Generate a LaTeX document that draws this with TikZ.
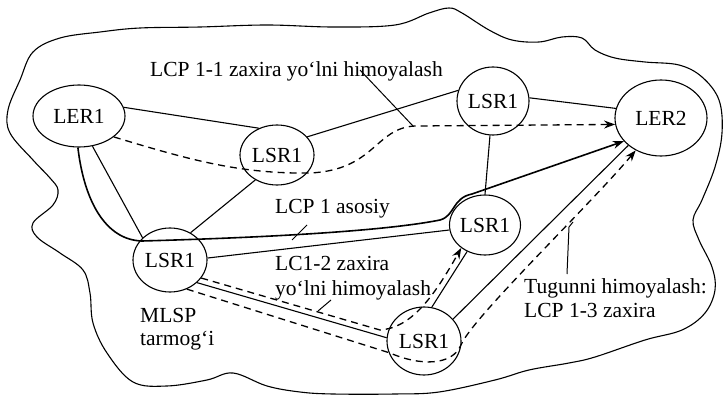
\documentclass[tikz,border=0pt]{standalone}
\usepackage{fontspec}
\setmainfont{Liberation Serif}
\usetikzlibrary{shapes.geometric,arrows.meta}
\begin{document}
\begin{tikzpicture}[x=1pt,y=-1pt,
  router/.style={draw,ellipse,inner sep=0pt,line width=1.1pt,font=\fontsize{21.5}{25}\selectfont},
  link/.style={line width=1.1pt},
  mainpath/.style={line width=1.6pt,-{Stealth[length=11pt,width=8pt]}},
  backup/.style={line width=1.3pt,dash pattern=on 7pt off 5pt,-{Stealth[length=11pt,width=8pt]}},
  lbl/.style={font=\fontsize{21.5}{25}\selectfont,inner sep=0pt,anchor=base west},
  ptr/.style={line width=1pt}]
\useasboundingbox (0,0) rectangle (724,396);
% cloud outline
\draw[line width=1.1pt] plot[smooth cycle, tension=0.6] coordinates {
(33,52) (60,38) (100,32) (140,28) (200,27) (267,25) (333,27) (395,25) (429,13) (449,8)
(462,13) (489,30) (512,40) (539,42) (562,37) (582,38) (595,50) (615,58) (645,62) (679,65)
(702,77) (719,100) (722,133) (715,167) (702,200) (693,220) (699,240) (712,267) (715,290)
(705,313) (682,330) (645,340) (595,357) (569,363) (529,370) (495,380) (439,392) (395,394)
(333,394) (300,392) (267,386) (233,373) (207,380) (167,386) (133,382) (107,353) (93,323)
(90,293) (83,270) (60,253) (37,237) (33,223) (53,205) (58,190) (50,178) (33,160) (10,133)
(8,110) (20,80)};
% routers
\node[router,minimum width=92pt,minimum height=62pt] (ler1) at (79,116) {LER1};
\node[router,minimum width=74pt,minimum height=60pt] (lsrA) at (277,155) {LSR1};
\node[router,minimum width=72pt,minimum height=68pt] (lsrB) at (493,101) {LSR1};
\node[router,minimum width=92pt,minimum height=76pt] (ler2) at (661,118) {LER2};
\node[router,minimum width=74pt,minimum height=64pt] (lsrC) at (170,260) {LSR1};
\node[router,minimum width=70pt,minimum height=60pt] (lsrD) at (485,225) {LSR1};
\node[router,minimum width=74pt,minimum height=68pt] (lsrE) at (424,341) {LSR1};
% links
\draw[link] (ler1.11) -- (lsrA.124);
\draw[link] (lsrA.31) -- (lsrB.163);
\draw[link] (lsrB.5) -- (ler2.168);
\draw[link] (lsrB.265) -- (lsrD.90);
\draw[link] (lsrA.229) -- (lsrC.53);
\draw[link] (ler1.294) -- (lsrC.141);
\draw[link] (lsrC.3) -- (lsrD.188);
\draw[link] (lsrC.320) -- (lsrE.175);
\draw[link] (lsrE.37) -- (ler2.220);
\draw[link] (lsrE.77) -- (lsrD.236);
% primary LSP
\draw[mainpath] (ler1.268) .. controls (84,200) and (105,240) .. (142,241)
  .. controls (250,238) and (380,232) .. (440,220)
  .. controls (455,216) and (452,198) .. (472,194) -- (ler2.212);
% backup 1-1
\draw[backup] (ler1.329) .. controls (190,160) and (240,174) .. (310,173)
  .. controls (375,170) and (375,128) .. (415,126) -- (ler2.188);
% backup 1-2
\draw[backup] (lsrC.330) -- (380,330) .. controls (410,328) and (432,300) .. (lsrD.224);
% backup 1-3
\draw[backup] (lsrC.300) -- (390,353) .. controls (420,366) and (452,366) .. (461,345)
  .. controls (472,318) and (590,205) .. (ler2.232);
% labels
\node[lbl] (t11) at (150,77) {LCP 1-1 zaxira yo‘lni himoyalash};
\node[lbl] (tas) at (275,213) {LCP 1 asosiy};
\node[lbl] (t12a) at (275,270) {LC1-2 zaxira};
\node[lbl] (t12b) at (275,295) {yo‘lni himoyalash};
\node[lbl] (tm1) at (140,322) {MLSP};
\node[lbl] (tm2) at (140,345) {tarmog‘i};
\node[lbl] (tt1) at (524,293) {Tugunni himoyalash:};
\node[lbl] (tt2) at (524,317) {LCP 1-3 zaxira};
% pointers
\coordinate (p11a) at (360,70); \coordinate (p11b) at (413,126);
\draw[ptr] (p11a) -- (p11b);
\coordinate (pasa) at (307,225); \coordinate (pasb) at (292,240);
\draw[ptr] (pasa) -- (pasb);
\coordinate (p12a) at (331,300); \coordinate (p12b) at (318,311);
\draw[ptr] (p12a) -- (p12b);
\coordinate (p13a) at (567,274); \coordinate (p13m) at (569,227); \coordinate (p13b) at (573,222);
\draw[ptr] (p13a) -- (p13m) -- (p13b);
\end{tikzpicture}
\end{document}
